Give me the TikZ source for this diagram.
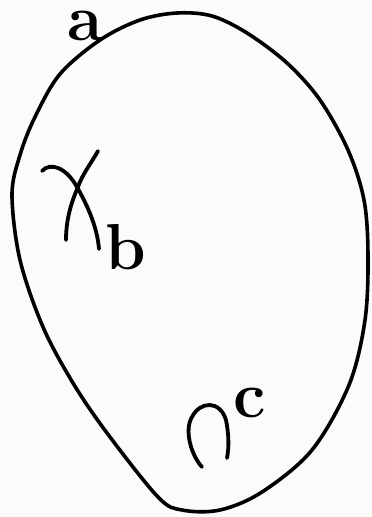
\documentclass[tikz,border=0pt]{standalone}
\begin{document}
\begin{tikzpicture}[x=1pt,y=-1pt,
  outline/.style={line width=3.6pt, line join=round},
  glyph/.style={line width=3.8pt, line cap=round},
  lbl/.style={font=\fontsize{65}{70}\selectfont\bfseries, inner sep=0pt, anchor=base}]
\definecolor{paper}{rgb}{0.985,0.985,0.975}
\fill[paper] (0,0) rectangle (372,517);
\useasboundingbox (0,0) rectangle (372,517);
\draw[outline] plot[smooth cycle, tension=0.55] coordinates {
  (177,13) (212,16) (247,33) (287,63) (320,100) (348,150) (364,200)
  (368,255) (365,320) (349,385) (312,450) (262,492) (220,510) (182,510)
  (158,497) (107,433) (73,383) (43,327) (20,260) (12,195) (20,155)
  (35,117) (60,74) (100,40) (140,20)};
\node[lbl] (a) at (85,40) {a};
\node[lbl] (b) at (126,269) {b};
\node[lbl] (c) at (250,417) {c};
% gamma-like symbol
\draw[glyph] (42,171) .. controls (50,162) and (66,167) .. (77,187)
  .. controls (86,203) and (97,225) .. (99,249);
\draw[glyph] (98,151) .. controls (90,165) and (82,175) .. (78,187)
  .. controls (70,205) and (66,222) .. (66,240);
% cap-like symbol
\draw[glyph] (202,467) .. controls (191,455) and (184,430) .. (192,417)
  .. controls (200,401) and (220,400) .. (226,420)
  .. controls (229,435) and (229,448) .. (227,458);
\end{tikzpicture}
\end{document}
